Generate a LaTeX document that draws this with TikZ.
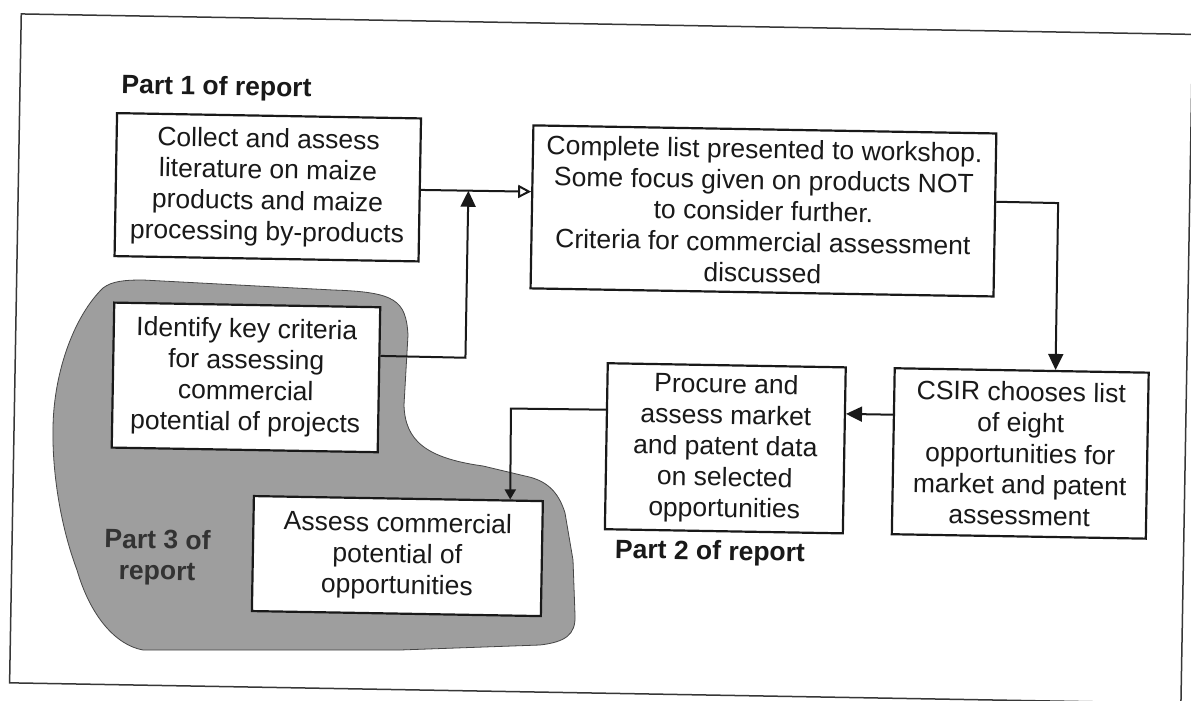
\documentclass[tikz,border=0pt]{standalone}
\usepackage{fontspec}
\setmainfont{Liberation Sans}
\usetikzlibrary{arrows.meta,calc}
\definecolor{ink}{RGB}{25,25,25}
\definecolor{blobgray}{RGB}{158,158,158}
\definecolor{blobedge}{RGB}{70,70,70}
\definecolor{framegray}{RGB}{55,55,55}
\begin{document}
\begin{tikzpicture}[x=1pt,y=-1pt,
  box/.style={draw=ink, line width=2.2pt, fill=white, inner sep=0pt, align=center,
              text=ink, font=\fontsize{26.5}{31}\selectfont},
  conn/.style={draw=ink, line width=2pt},
  lbl/.style={text=ink, font=\bfseries\fontsize{26.5}{31}\selectfont, inner sep=0pt, align=center},
  arrtip/.style={-{Triangle[length=16pt,width=15pt]}},
  opentip/.style={-{Triangle[open,length=13pt,width=13pt]}},
  smalltip/.style={-{Triangle[length=10pt,width=11pt]}},
  blob/.style={fill=blobgray, draw=blobedge, line width=0.8pt},
  outerframe/.style={draw=framegray, line width=1.5pt}
]
\useasboundingbox (0,0) rectangle (1191,701);
\fill[white] (0,0) rectangle (1191,701);

% shaded region (Part 3)
\path[blob] (143,280) -- (333,290)
  .. controls (395,292) and (406,300) .. (408,335)
  -- (404,405)
  .. controls (405,440) and (425,458) .. (483,466)
  -- (525,476)
  .. controls (545,480) and (558,490) .. (565,513)
  -- (573,560) -- (575,615)
  .. controls (576,635) and (565,642) .. (540,645)
  -- (400,650) -- (143,650)
  .. controls (115,645) and (90,615) .. (77,570)
  .. controls (60,525) and (52,470) .. (53,427)
  .. controls (54,370) and (75,315) .. (103,288)
  .. controls (112,281) and (125,280) .. (143,280) -- cycle;

\begin{scope}[rotate around={-1:(595,350)}, transform shape]
  \draw[outerframe] (15.5,24) -- (1187,24) -- (1187,693) -- (15.5,693) -- cycle;

  \node[lbl] (p1) at (212,95) {Part 1 of report};
  \node[lbl] (p2) at (713.5,551) {Part 2 of report};
  \node[lbl, text=black!80] (p3) at (161,565) {Part 3 of\\report};

  \node[box, minimum width=304pt, minimum height=143pt] (box1) at (265,193)
    {Collect and assess\\literature on maize\\products and maize\\processing by-products};
  \node[box, minimum width=463pt, minimum height=163pt] (box2) at (761,208)
    {Complete list presented to workshop.\\Some focus given on products NOT\\to consider further.\\Criteria for commercial assessment\\discussed};
  \node[box, minimum width=266pt, minimum height=145pt] (box3) at (246.5,383.5)
    {Identify key criteria\\for assessing\\commercial\\potential of projects};
  \node[box, minimum width=289pt, minimum height=115pt] (box4) at (401,559.5)
    {Assess commercial\\potential of\\opportunities};
  \node[box, minimum width=238pt, minimum height=166pt] (box5) at (727,446)
    {Procure and\\assess market\\and patent data\\on selected\\opportunities};
  \node[box, minimum width=254pt, minimum height=166pt] (box6) at (1022,446)
    {CSIR chooses list\\of eight\\opportunities for\\market and patent\\assessment};

  \coordinate (jA) at (465.6,193);
  \coordinate (jB) at (465.6,360);
  \coordinate (kA) at (1055.5,195);
  \coordinate (nA) at (512,410);

  \draw[conn, opentip] (box1.east) -- ($(box2.north west)!0.408!(box2.south west)$);
  \draw[conn, arrtip] ($(box3.north east)!0.338!(box3.south east)$) -- (jB) -- (jA);
  \draw[conn, arrtip] ($(box2.north east)!0.42!(box2.south east)$) -- (kA)
        -- ($(box6.north west)!0.632!(box6.north east)$);
  \draw[conn, arrtip] ($(box6.north west)!0.283!(box6.south west)$)
        -- ($(box5.north east)!0.283!(box5.south east)$);
  \draw[conn, smalltip] ($(box5.north west)!0.283!(box5.south west)$) -- (nA)
        -- ($(box4.north west)!0.884!(box4.north east)$);
\end{scope}
\end{tikzpicture}
\end{document}
